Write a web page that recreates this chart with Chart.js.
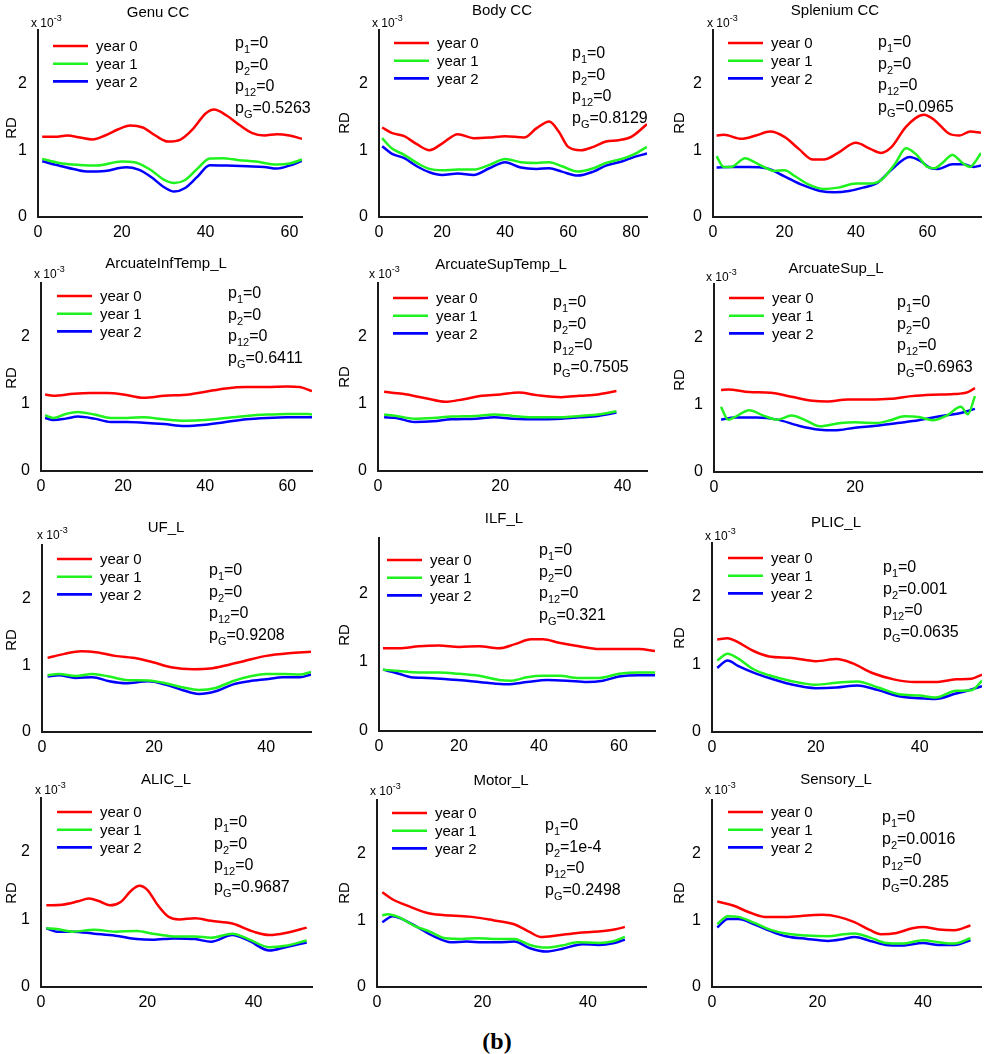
<!DOCTYPE html>
<html><head><meta charset="utf-8">
<script src="https://cdn.jsdelivr.net/npm/chart.js@4.4.1/dist/chart.umd.min.js"></script>
<style>
html,body{margin:0;padding:0;background:#fff;}
body{width:1005px;height:1054px;position:relative;overflow:hidden;}
canvas{position:absolute;}
#cap{position:absolute;left:0;width:994px;top:1028px;line-height:24px;text-align:center;font:bold 24px "Liberation Serif","Times New Roman",serif;color:#000;}
</style></head><body>
<div id="cap">(b)</div>
<script>
// ---------- data (RD values in units of 1e-3) ----------
const titles = ['Genu CC','Body CC','Splenium CC','ArcuateInfTemp_L','ArcuateSupTemp_L','ArcuateSup_L','UF_L','ILF_L','PLIC_L','ALIC_L','Motor_L','Sensory_L'];
const seriesLabels = ['year 0','year 1','year 2'];
const pSubs = ['1','2','12','G'];
const pValues = [
  ['0','0','0','0.5263'],['0','0','0','0.8129'],['0','0','0','0.0965'],
  ['0','0','0','0.6411'],['0','0','0','0.7505'],['0','0','0','0.6963'],
  ['0','0','0','0.9208'],['0','0','0','0.321'],['0','0.001','0','0.0635'],
  ['0','0','0','0.9687'],['0','1e-4','0','0.2498'],['0','0.0016','0','0.285']
];
const xMaxes = [63,85,75,66,44,38,48,69,52,51,51,51];
const xTicks = [[0,20,40,60],[0,20,40,60,80],[0,20,40,60],[0,20,40,60],[0,20,40],[0,20],[0,20,40],[0,20,40,60],[0,20,40],[0,20,40],[0,20,40],[0,20,40]];
const yTicks = [0,1,2];
const yMax = 2.8;

const genuY0 = [[1,1.20],[4,1.20],[7,1.22],[10,1.19],[13,1.16],[16,1.22],[19,1.31],[22,1.37],[25,1.34],[28,1.22],[31,1.13],[34,1.16],[37,1.32],[40,1.55],[42,1.61],[45,1.52],[48,1.38],[51,1.26],[54,1.22],[57,1.24],[60,1.22],[63,1.17]];
const genuY1 = [[1,0.87],[5,0.81],[10,0.78],[14,0.77],[20,0.83],[23,0.82],[27,0.70],[30,0.56],[32.5,0.51],[35,0.55],[38,0.72],[41,0.875],[44,0.88],[48,0.85],[52,0.83],[57,0.785],[60,0.80],[63,0.86]];
const genuY2 = [[1,0.835],[5,0.77],[9,0.71],[12,0.68],[16,0.69],[21,0.745],[24,0.71],[27,0.60],[30,0.45],[32.5,0.38],[35,0.43],[38,0.60],[41,0.775],[45,0.77],[50,0.76],[54,0.75],[57,0.725],[60,0.77],[63,0.84]];

const bodyY0 = [[1,1.34],[4,1.26],[8,1.21],[12,1.09],[16,1.00],[20,1.10],[25,1.24],[30,1.18],[35,1.19],[40,1.21],[46,1.19],[50,1.33],[54,1.43],[57,1.28],[60,1.05],[64,1.00],[68,1.05],[72,1.13],[76,1.15],[80,1.20],[85,1.39]];
const bodyY1 = [[1,1.18],[4,1.03],[8,0.93],[12,0.81],[16,0.72],[20,0.70],[25,0.71],[30,0.71],[35,0.78],[40,0.87],[45,0.82],[50,0.81],[54,0.82],[58,0.76],[63,0.68],[68,0.73],[72,0.81],[77,0.87],[81,0.94],[85,1.05]];
const bodyY2 = [[1,1.06],[4,0.95],[8,0.88],[12,0.76],[16,0.67],[20,0.63],[25,0.65],[30,0.63],[35,0.73],[40,0.82],[45,0.74],[50,0.72],[54,0.73],[58,0.68],[63,0.62],[68,0.68],[72,0.77],[77,0.83],[81,0.90],[85,0.95]];

const splY0 = [[1,1.22],[3,1.23],[8,1.17],[12,1.22],[16,1.28],[20,1.20],[24,1.02],[28,0.86],[31,0.86],[35,0.96],[40,1.11],[44,1.02],[47,0.96],[50,1.05],[54,1.35],[59,1.53],[62,1.45],[66,1.25],[69,1.22],[72,1.28],[75,1.26]];
const splY1 = [[1,0.91],[3,0.75],[5,0.75],[9,0.88],[12,0.81],[15,0.73],[17,0.69],[20,0.70],[23,0.61],[27,0.48],[31,0.42],[35,0.44],[40,0.50],[44,0.50],[47,0.55],[51,0.80],[54,1.03],[57,0.93],[60,0.75],[62,0.73],[64,0.80],[67,0.93],[70,0.80],[72,0.75],[73,0.80],[75,0.96]];
const splY2 = [[1,0.74],[5,0.75],[10,0.75],[15,0.73],[20,0.61],[25,0.48],[30,0.39],[34,0.37],[38,0.39],[42,0.44],[46,0.51],[50,0.71],[55,0.90],[58,0.84],[61,0.73],[63,0.72],[67,0.79],[70,0.79],[73,0.75],[75,0.77]];

const aitY0 = [[1,1.14],[3,1.12],[8,1.15],[12,1.16],[16,1.16],[20,1.14],[25,1.09],[30,1.12],[36,1.14],[40,1.18],[45,1.23],[50,1.25],[55,1.25],[60,1.26],[63,1.25],[66,1.19]];
const aitY1 = [[1,0.83],[3,0.79],[6,0.85],[9,0.88],[13,0.84],[17,0.79],[21,0.79],[25,0.80],[30,0.77],[35,0.75],[40,0.76],[45,0.79],[50,0.82],[55,0.84],[60,0.85],[65,0.85],[66,0.84]];
const aitY2 = [[1,0.79],[3,0.76],[6,0.78],[9,0.81],[13,0.78],[17,0.73],[21,0.73],[25,0.72],[30,0.70],[35,0.67],[40,0.69],[45,0.73],[50,0.77],[55,0.79],[60,0.80],[66,0.80]];

const astY0 = [[1,1.18],[4,1.15],[8,1.08],[11,1.03],[14,1.07],[17,1.12],[20,1.14],[23,1.17],[26,1.13],[30,1.10],[33,1.12],[36,1.14],[39,1.19]];
const astY1 = [[1,0.84],[3,0.82],[6,0.78],[9,0.79],[12,0.81],[16,0.82],[19,0.84],[22,0.82],[26,0.80],[30,0.80],[33,0.82],[36,0.84],[39,0.89]];
const astY2 = [[1,0.80],[3,0.79],[6,0.73],[9,0.74],[12,0.77],[16,0.78],[19,0.80],[22,0.78],[26,0.77],[30,0.78],[33,0.80],[36,0.82],[39,0.87]];

const asY0 = [[1,1.22],[2,1.23],[5,1.19],[8,1.18],[11,1.12],[14,1.06],[16,1.05],[19,1.08],[22,1.08],[25,1.09],[28,1.13],[31,1.15],[34,1.16],[36,1.19],[37,1.25]];
const asY1 = [[1,0.97],[2,0.78],[3,0.82],[5,0.92],[7,0.84],[9,0.78],[11,0.84],[13,0.77],[15,0.68],[18,0.73],[20,0.74],[23,0.73],[25,0.77],[27,0.83],[29,0.82],[31,0.77],[33,0.84],[35,0.97],[36,0.86],[37,1.13]];
const asY2 = [[1,0.78],[3,0.81],[6,0.81],[9,0.78],[12,0.69],[15,0.63],[17,0.62],[20,0.66],[23,0.69],[26,0.73],[29,0.77],[32,0.83],[35,0.88],[37,0.94]];

const ufY0 = [[1,1.11],[4,1.17],[7,1.21],[10,1.19],[13,1.14],[17,1.10],[20,1.04],[23,0.97],[27,0.94],[30,0.95],[33,1.00],[36,1.06],[40,1.14],[44,1.18],[48,1.20]];
const ufY1 = [[1,0.85],[3,0.87],[6,0.84],[9,0.87],[12,0.83],[15,0.78],[19,0.77],[22,0.73],[25,0.67],[28,0.63],[31,0.66],[34,0.76],[37,0.83],[40,0.87],[43,0.87],[46,0.86],[48,0.90]];
const ufY2 = [[1,0.83],[3,0.85],[6,0.81],[9,0.82],[12,0.76],[15,0.73],[19,0.76],[22,0.71],[25,0.63],[28,0.57],[31,0.61],[34,0.71],[37,0.76],[40,0.79],[43,0.82],[46,0.82],[48,0.86]];

const ilfY0 = [[1,1.20],[5,1.20],[10,1.23],[15,1.24],[20,1.22],[25,1.23],[30,1.20],[34,1.26],[38,1.33],[41,1.33],[45,1.28],[50,1.23],[55,1.19],[60,1.19],[65,1.19],[69,1.16]];
const ilfY1 = [[1,0.89],[5,0.87],[10,0.85],[15,0.85],[20,0.83],[25,0.80],[30,0.74],[33,0.73],[37,0.78],[41,0.80],[45,0.80],[50,0.77],[55,0.77],[60,0.83],[65,0.85],[69,0.85]];
const ilfY2 = [[1,0.89],[5,0.83],[8,0.78],[12,0.77],[17,0.75],[22,0.73],[27,0.70],[32,0.68],[37,0.71],[42,0.74],[47,0.73],[52,0.71],[56,0.73],[60,0.79],[65,0.81],[69,0.81]];

const plicY0 = [[1,1.37],[3,1.39],[5,1.33],[8,1.20],[11,1.12],[15,1.10],[20,1.05],[24,1.08],[27,1.02],[31,0.87],[35,0.78],[39,0.74],[43,0.74],[47,0.78],[50,0.79],[52,0.85]];
const plicY1 = [[1,1.06],[3,1.16],[5,1.09],[8,0.93],[11,0.84],[15,0.76],[20,0.70],[24,0.73],[28,0.75],[32,0.66],[36,0.56],[40,0.54],[43,0.51],[47,0.61],[50,0.62],[52,0.76]];
const plicY2 = [[1,0.95],[3,1.06],[5,0.98],[8,0.88],[11,0.80],[15,0.71],[20,0.65],[24,0.66],[28,0.69],[32,0.62],[36,0.53],[40,0.50],[43,0.49],[47,0.57],[50,0.63],[52,0.68]];

const alicY0 = [[1,1.21],[4,1.22],[7,1.27],[9,1.31],[11,1.27],[13,1.21],[15,1.26],[17,1.43],[18.5,1.50],[20,1.44],[22,1.21],[24,1.04],[26,1.00],[29,1.02],[32,0.98],[36,0.94],[40,0.82],[43,0.77],[46,0.80],[50,0.88]];
const alicY1 = [[1,0.87],[3,0.86],[6,0.82],[10,0.85],[14,0.82],[18,0.83],[21,0.79],[25,0.75],[29,0.75],[32,0.73],[36,0.79],[39,0.71],[43,0.59],[46,0.61],[50,0.69]];
const alicY2 = [[1,0.87],[3,0.82],[6,0.82],[10,0.79],[14,0.76],[18,0.71],[21,0.70],[25,0.72],[29,0.71],[32,0.67],[36,0.77],[39,0.69],[43,0.54],[46,0.59],[50,0.66]];

const motY0 = [[1,1.42],[3,1.31],[6,1.21],[10,1.10],[14,1.07],[18,1.05],[22,1.00],[26,0.94],[29,0.82],[31,0.75],[34,0.77],[38,0.81],[42,0.83],[45,0.86],[47,0.90]];
const motY1 = [[1,1.07],[2,1.09],[4,1.05],[7,0.92],[10,0.83],[13,0.73],[16,0.72],[19,0.73],[22,0.72],[26,0.72],[29,0.63],[32,0.59],[35,0.62],[38,0.67],[42,0.66],[45,0.69],[47,0.75]];
const motY2 = [[1,0.97],[3,1.06],[5,1.01],[8,0.88],[11,0.75],[14,0.67],[17,0.68],[20,0.67],[23,0.67],[26,0.68],[29,0.58],[32,0.53],[35,0.57],[39,0.64],[42,0.63],[45,0.66],[47,0.71]];

const senY0 = [[1,1.28],[4,1.22],[7,1.12],[10,1.05],[14,1.05],[18,1.07],[21,1.08],[24,1.05],[27,0.97],[30,0.85],[32,0.79],[35,0.81],[38,0.88],[40,0.90],[43,0.86],[46,0.85],[49,0.92]];
const senY1 = [[1,0.94],[3,1.06],[5,1.05],[8,0.96],[11,0.86],[14,0.80],[18,0.77],[22,0.76],[25,0.79],[27,0.80],[30,0.74],[33,0.66],[36,0.65],[40,0.70],[43,0.67],[46,0.65],[49,0.73]];
const senY2 = [[1,0.89],[3,1.02],[5,1.02],[8,0.94],[11,0.84],[14,0.76],[18,0.72],[22,0.69],[25,0.72],[27,0.75],[30,0.69],[33,0.63],[36,0.62],[40,0.66],[43,0.63],[46,0.63],[49,0.70]];

const panelSeries = [
  [genuY0,genuY1,genuY2],[bodyY0,bodyY1,bodyY2],[splY0,splY1,splY2],
  [aitY0,aitY1,aitY2],[astY0,astY1,astY2],[asY0,asY1,asY2],
  [ufY0,ufY1,ufY2],[ilfY0,ilfY1,ilfY2],[plicY0,plicY1,plicY2],
  [alicY0,alicY1,alicY2],[motY0,motY1,motY2],[senY0,senY1,senY2]
];

// ---------- layout & style (page pixel positions) ----------
const layout = [
  {L:38,R:302,T:30,B:217,title:[158,13],exp:[31,27],rd:[12,128],leg:[53,46],p:[235,48]},
  {L:379,R:647,T:30,B:217,title:[502,11],exp:[372,27],rd:[345,123],leg:[394,43],p:[572,58]},
  {L:713,R:981,T:30,B:217,title:[835,11],exp:[707,27],rd:[680,123],leg:[728,43],p:[878,47]},
  {L:41,R:312,T:283,B:471,title:[166,264],exp:[34,278],rd:[12,378],leg:[57,296],p:[228,298]},
  {L:378,R:647,T:283,B:471,title:[501,265],exp:[369,278],rd:[345,377],leg:[393,298],p:[553,307]},
  {L:714,R:982,T:284,B:472,title:[836,269],exp:[706,281],rd:[680,380],leg:[729,298],p:[897,307]},
  {L:42,R:311,T:545,B:732,title:[166,528],exp:[37,539],rd:[12,640],leg:[57,559],p:[209,575]},
  {L:379,R:655,T:538,B:731,title:[504,519],exp:null,rd:[345,635],leg:[387,560],p:[539,555]},
  {L:712,R:982,T:543,B:732,title:[836,523],exp:[705,540],rd:[680,638],leg:[728,558],p:[883,572]},
  {L:41,R:312,T:798,B:987,title:[166,780],exp:[35,794],rd:[12,893],leg:[57,812],p:[214,827]},
  {L:377,R:646,T:800,B:987,title:[501,781],exp:[370,795],rd:[345,893],leg:[392,813],p:[545,830]},
  {L:712,R:981,T:800,B:987,title:[836,780],exp:[705,794],rd:[680,893],leg:[728,812],p:[882,822]}
];
const colors = ['#ff0000','#1ff21f','#0000ff'];
const FONT = '"Liberation Sans", Arial, Helvetica, sans-serif';
const PL = 40, PT = 34, PR = 22, PB = 30;

function makeOverlay(i, offX, offY){
  return {
    id: 'overlay' + i,
    afterDraw(chart){
      const ctx = chart.ctx, lay = layout[i];
      const X = v => v - offX, Y = v => v - offY;
      ctx.save();
      ctx.fillStyle = '#000';
      // title
      ctx.font = '15px ' + FONT;
      ctx.textAlign = 'center'; ctx.textBaseline = 'middle';
      ctx.fillText(titles[i], X(lay.title[0]), Y(lay.title[1]));
      // y label
      ctx.save();
      ctx.translate(X(lay.rd[0]), Y(lay.rd[1]));
      ctx.rotate(-Math.PI/2);
      ctx.font = '15px ' + FONT;
      ctx.fillText('RD', 0, 0);
      ctx.restore();
      // exponent
      ctx.textAlign = 'left'; ctx.textBaseline = 'alphabetic';
      if (lay.exp){
        ctx.font = '12px ' + FONT;
        ctx.fillText('x 10', X(lay.exp[0]), Y(lay.exp[1]));
        const w = ctx.measureText('x 10').width;
        ctx.font = '9px ' + FONT;
        ctx.fillText('-3', X(lay.exp[0]) + w, Y(lay.exp[1]) - 6);
      }
      // legend
      chart.data.datasets.forEach((ds, k) => {
        const y = Y(lay.leg[1]) + k * 17.7;
        const x0 = X(lay.leg[0]);
        ctx.strokeStyle = ds.borderColor; ctx.lineWidth = 2.6;
        ctx.beginPath(); ctx.moveTo(x0, y); ctx.lineTo(x0 + 35, y); ctx.stroke();
        ctx.font = '15px ' + FONT; ctx.textBaseline = 'middle';
        ctx.fillText(ds.label, x0 + 43, y + 1);
      });
      // p-values
      ctx.textBaseline = 'alphabetic';
      pValues[i].forEach((v, k) => {
        let x = X(lay.p[0]);
        const y = Y(lay.p[1]) + k * 21.7;
        ctx.font = '16px ' + FONT;
        ctx.fillText('p', x, y); x += ctx.measureText('p').width;
        ctx.font = '11px ' + FONT;
        ctx.fillText(pSubs[k], x, y + 5); x += ctx.measureText(pSubs[k]).width;
        ctx.font = '16px ' + FONT;
        ctx.fillText('=' + v, x, y);
      });
      ctx.restore();
    }
  };
}

layout.forEach((lay, i) => {
  const cv = document.createElement('canvas');
  const cl = lay.L - PL, ct = lay.T - PT;
  const w = lay.R - lay.L + PL + PR, h = lay.B - lay.T + PT + PB;
  cv.width = w; cv.height = h;
  cv.style.left = cl + 'px'; cv.style.top = ct + 'px';
  cv.style.width = w + 'px'; cv.style.height = h + 'px';
  document.body.appendChild(cv);
  const tickFont = {family: FONT, size: 16};
  new Chart(cv, {
    type: 'line',
    data: {
      datasets: panelSeries[i].map((s, k) => ({
        label: seriesLabels[k],
        data: s.map(p => ({x: p[0], y: p[1]})),
        borderColor: colors[k],
        borderWidth: 2.5,
        pointRadius: 0,
        fill: false,
        cubicInterpolationMode: 'monotone'
      }))
    },
    options: {
      responsive: false, animation: false, devicePixelRatio: 1,
      layout: {padding: {left: 0, top: PT, right: PR, bottom: 0}},
      plugins: {legend: {display: false}, tooltip: {enabled: false}, title: {display: false}},
      scales: {
        x: {
          type: 'linear', min: 0, max: xMaxes[i],
          grid: {display: false, drawTicks: false},
          border: {display: true, color: '#1a1a1a', width: 2},
          ticks: {font: tickFont, color: '#000', padding: 6, maxRotation: 0, autoSkip: false, callback: v => String(v)},
          afterBuildTicks: s => { s.ticks = xTicks[i].map(v => ({value: v})); },
          afterFit: s => { s.height = PB; }
        },
        y: {
          min: 0, max: yMax,
          grid: {display: false, drawTicks: false},
          border: {display: true, color: '#1a1a1a', width: 2},
          ticks: {font: tickFont, color: '#000', padding: 11, autoSkip: false, callback: v => String(v)},
          afterBuildTicks: s => { s.ticks = yTicks.map(v => ({value: v})); },
          afterFit: s => { s.width = PL; }
        }
      }
    },
    plugins: [makeOverlay(i, cl, ct)]
  });
});
</script>
</body></html>
